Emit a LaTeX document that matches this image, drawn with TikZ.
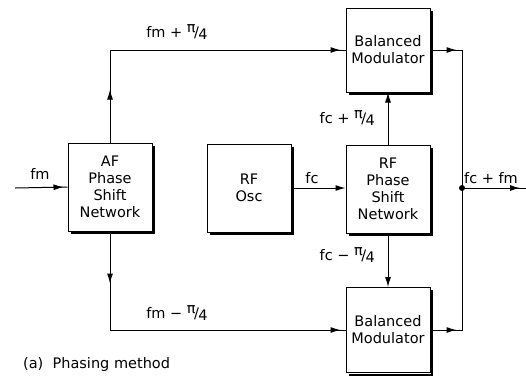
\documentclass[tikz,border=0pt]{standalone}
\usepackage{fontspec}
\setmainfont{DejaVu Sans}
\usetikzlibrary{arrows.meta,positioning,decorations.markings}
\newcommand{\piq}{\raisebox{0.55ex}{π}\kern-0.1em/\kern-0.05em\raisebox{-0.25ex}{4}}

\begin{document}
\begin{tikzpicture}[x=1pt,y=-1pt,
    blk/.style={draw,line width=1pt,fill=white,minimum width=84pt,minimum height=88pt,
                align=center,font=\fontsize{14.5}{17}\selectfont,inner sep=1pt},
    ln/.style={line width=1pt},
    tip/.style={-{Latex[length=10pt,width=6pt]}},
    arrat/.style={postaction={decorate,decoration={markings,
                  mark=at position #1 with {\arrow{Latex[length=10pt,width=6pt]}}}}},
    lbl/.style={font=\fontsize{14.5}{17}\selectfont,inner sep=1pt}]
  \useasboundingbox (0,0) rectangle (526,376);
  % blocks
  \node[blk] (af) at (110,187) {AF\\Phase\\Shift\\Network};
  \node[blk] (osc) at (249,188) {RF\\Osc};
  \node[blk] (rfps) at (388,189) {RF\\Phase\\Shift\\Network};
  \node[blk,minimum height=84pt] (bmt) at (388,50) {Balanced\\Modulator};
  \node[blk,minimum height=85pt] (bmb) at (388,330) {Balanced\\Modulator};
  % heavy right and bottom edges
  \foreach \b in {af,osc,rfps,bmt,bmb}
    \draw[line width=2pt] ([shift={(1.5,3)}]\b.north east) |- ([shift={(3,1.5)}]\b.south west);
  \coordinate (in) at (15,188);
  \coordinate (jn) at (462,188);
  \coordinate (out) at (526,188);
  % connectors
  \draw[ln,arrat=-4pt] (in) -- (af.west);
  \draw[ln,arrat=53pt,arrat=-5pt] (af.north) |- (bmt.west);
  \draw[ln,arrat=52pt,arrat=-5pt] (af.south) |- (bmb.west);
  \draw[ln,tip] (osc.east) -- (osc.east -| rfps.west);
  \draw[ln,tip] (rfps) -- (bmt);
  \draw[ln,tip] (rfps) -- (bmb);
  \draw[ln,arrat=26pt] (bmt.east) -| (jn);
  \draw[ln,arrat=26pt] (bmb.east) -| (jn);
  \fill (jn) circle (3pt);
  \draw[ln,arrat=-6pt] (jn) -- (out);
  % labels
  \node[lbl] (lfm) at (40,174) {fm};
  \node[lbl] (lfmp) at (177,32) {fm + \piq};
  \node[lbl] (lfmm) at (177,313) {fm − \piq};
  \node[lbl] (lfc) at (312,178) {fc};
  \node[lbl,anchor=east] (lfcp) at (376,118) {fc + \piq};
  \node[lbl,anchor=east] (lfcm) at (376,255) {fc − \piq};
  \node[lbl] (lout) at (491,178) {fc + fm};
  \node[lbl,anchor=west] (cap) at (22,364) {(a)\ \ Phasing method};
\end{tikzpicture}
\end{document}
